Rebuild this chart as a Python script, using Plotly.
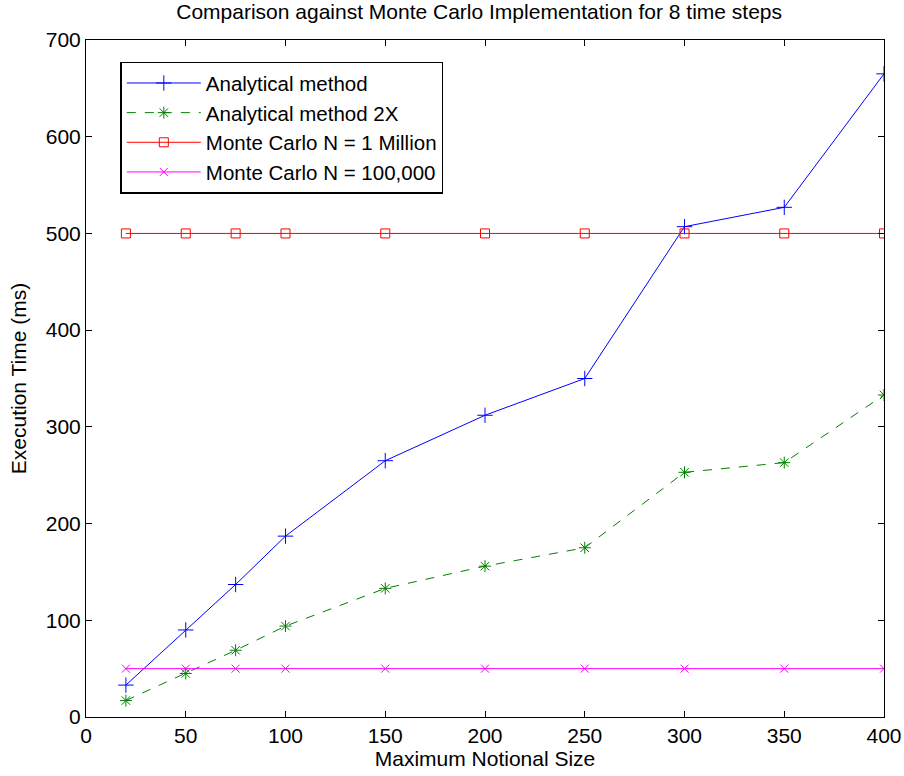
import plotly.graph_objects as go

# Maximum notional size values
notional = [20, 50, 75, 100, 150, 200, 250, 300, 350, 400]

# Execution times in ms
analytical = [33, 90, 137, 187, 265, 312, 350, 507, 527, 665]
analytical_2x = [17, 45, 69, 94, 133, 156, 175, 253, 263, 333]
mc_1m = [500, 500, 500, 500, 500, 500, 500, 500, 500, 500]
mc_100k = [50, 50, 50, 50, 50, 50, 50, 50, 50, 50]

series = [
    ("Analytical method", analytical, "#0000ff", "solid", "cross-thin-open", 11),
    ("Analytical method 2X", analytical_2x, "#008000", "dash", "asterisk-open", 10),
    ("Monte Carlo N = 1 Million", mc_1m, "#ff0000", "solid", "square-open", 9),
    ("Monte Carlo N = 100,000", mc_100k, "#ff00ff", "solid", "x-thin-open", 8),
]

fig = go.Figure()
for name, ys, color, dash, symbol, size in series:
    fig.add_trace(go.Scatter(
        x=notional, y=ys, name=name, mode="lines+markers",
        line=dict(color=color, width=1, dash=dash),
        marker=dict(symbol=symbol, size=size, color=color,
                    line=dict(color=color, width=1)),
    ))

axis_common = dict(
    showgrid=False, zeroline=False, showline=True, linecolor="black",
    linewidth=1, mirror="ticks", ticks="inside", ticklen=6,
    tickcolor="black", tickfont=dict(size=21, color="black"),
)

fig.update_layout(
    width=904, height=776,
    margin=dict(l=86, r=20, t=40, b=59, autoexpand=False),
    paper_bgcolor="white", plot_bgcolor="white",
    font=dict(family="Liberation Sans, Arial, sans-serif", color="black"),
    title=dict(text="Comparison against Monte Carlo Implementation for 8 time steps",
               x=0.53, xanchor="center", y=0.995, yanchor="top",
               font=dict(size=21)),
    xaxis=dict(range=[0, 400], tickvals=list(range(0, 401, 50)),
               title=dict(text="Maximum Notional Size", font=dict(size=21), standoff=2),
               **axis_common),
    yaxis=dict(range=[0, 700], tickvals=list(range(0, 701, 100)),
               title=dict(text="Execution Time (ms)", font=dict(size=21), standoff=13),
               **axis_common),
    legend=dict(x=0.043, y=0.968, xanchor="left", yanchor="top",
                bgcolor="white", bordercolor="black", borderwidth=1.5,
                font=dict(size=20.5), itemwidth=74),
    showlegend=True,
)

fig.write_html("out.html")
